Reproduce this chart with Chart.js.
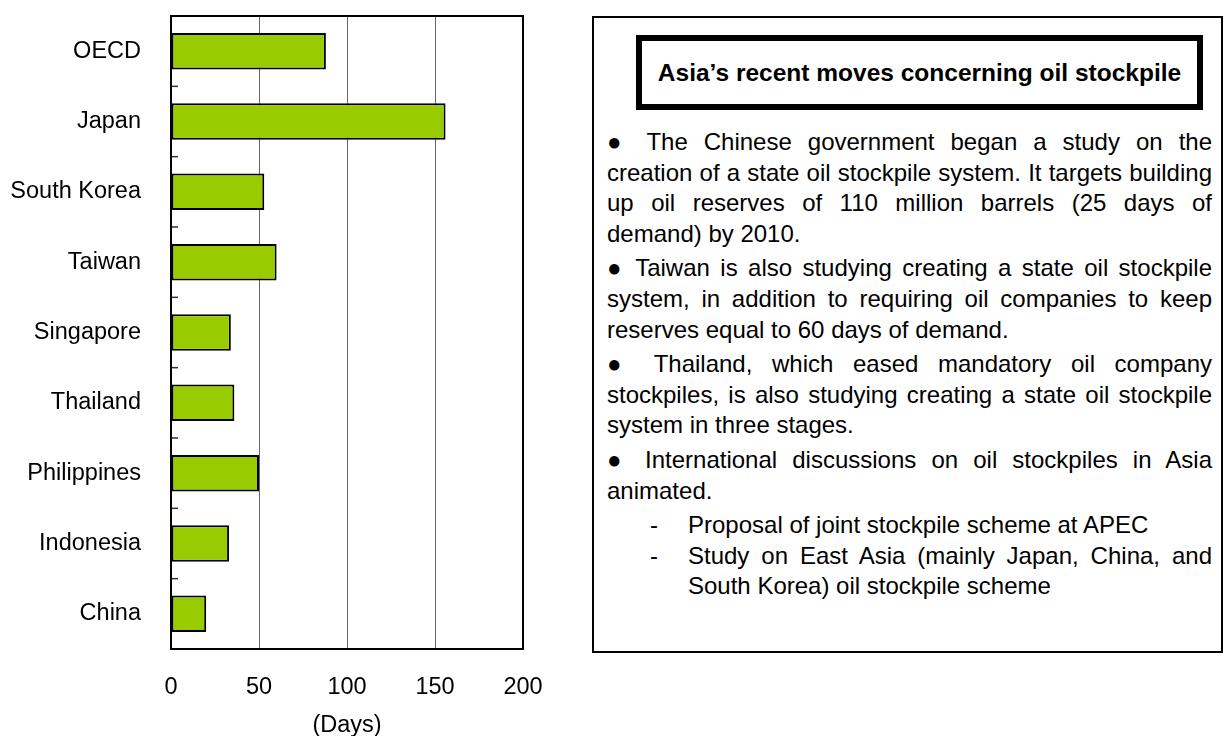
<!DOCTYPE html>
<html>
<head>
<meta charset="utf-8">
<script src="https://cdn.jsdelivr.net/npm/chart.js@4"></script>
<style>
  body { margin: 0; background: #fff; font-family: 'Liberation Sans', Arial, sans-serif; overflow: hidden; }
  #wrap { position: absolute; left: 0; top: 0; width: 580px; height: 740px; }
  #note {
    position: absolute; left: 592px; top: 16px; width: 631px; height: 637px;
    border: 2px solid #000; box-sizing: border-box;
  }
  #title {
    position: absolute; left: 636px; top: 35px; width: 567px; height: 75px;
    border: 6px solid #000; box-sizing: border-box;
    font-weight: bold; font-size: 24.5px; line-height: 63px; text-align: center;
  }
  .ln { position: absolute; left: 607px; width: 605px; height: 30px; line-height: 30px;
        font-size: 24px; white-space: nowrap; }
  .j { text-align: justify; text-align-last: justify; white-space: normal; }
  .sub { left: 688px; width: 524px; }
  .dash { position: absolute; left: 650px; font-size: 24px; line-height: 30px; height: 30px; }
</style>
</head>
<body>
<div id="wrap"><canvas id="chart"></canvas></div>
<div id="note"></div>
<div id="title">Asia’s recent moves concerning oil stockpile</div>
<div id="lines"></div>
<script>
  const categories = ['OECD', 'Japan', 'South Korea', 'Taiwan', 'Singapore', 'Thailand', 'Philippines', 'Indonesia', 'China'];
  const days = [88, 156, 53, 60, 34, 36, 50, 33, 20];
  const xMin = 0, xMax = 200, xStep = 50;

  // text lines of the note box: [text, justify?, paragraph start?, sub item?]
  const noteLines = [
    ['● The Chinese government began a study on the', true, true, false],
    ['creation of a state oil stockpile system. It targets building', true, false, false],
    ['up oil reserves of 110 million barrels (25 days of', true, false, false],
    ['demand) by 2010.', false, false, false],
    ['● Taiwan is also studying creating a state oil stockpile', true, true, false],
    ['system, in addition to requiring oil companies to keep', true, false, false],
    ['reserves equal to 60 days of demand.', false, false, false],
    ['● Thailand, which eased mandatory oil company', true, true, false],
    ['stockpiles, is also studying creating a state oil stockpile', true, false, false],
    ['system in three stages.', false, false, false],
    ['● International discussions on oil stockpiles in Asia', true, true, false],
    ['animated.', false, false, false],
    ['Proposal of joint stockpile scheme at APEC', false, true, true],
    ['Study on East Asia (mainly Japan, China, and', true, false, true],
    ['South Korea) oil stockpile scheme', false, false, true]
  ];

  const box = document.getElementById('lines');
  let y = 127;
  noteLines.forEach(function (l, i) {
    if (l[2] && i > 0) y += 4;
    const d = document.createElement('div');
    d.className = 'ln' + (l[1] ? ' j' : '') + (l[3] ? ' sub' : '');
    d.style.top = Math.round(y) + 'px';
    d.textContent = l[0];
    box.appendChild(d);
    if (i === 12 || i === 13) {
      const m = document.createElement('div');
      m.className = 'dash';
      m.style.top = Math.round(y) + 'px';
      m.textContent = '-';
      box.appendChild(m);
    }
    y += 30.6;
  });

  const frame = {
    id: 'frame',
    afterDraw(chart) {
      const ctx = chart.ctx, a = chart.chartArea, ys = chart.scales.y;
      ctx.save();
      ctx.strokeStyle = '#333';
      ctx.lineWidth = 1.5;
      for (let i = 1; i < categories.length; i++) {
        const b = (ys.getPixelForTick(i - 1) + ys.getPixelForTick(i)) / 2;
        ctx.beginPath();
        ctx.moveTo(a.left, b);
        ctx.lineTo(a.left + 7, b);
        ctx.stroke();
      }
      ctx.strokeStyle = '#000';
      ctx.lineWidth = 2;
      ctx.strokeRect(a.left, a.top, a.right - a.left, a.bottom - a.top);
      ctx.restore();
    }
  };

  const font = { family: "'Liberation Sans', Arial, sans-serif", size: 23.5 };

  new Chart(document.getElementById('chart'), {
    type: 'bar',
    data: {
      labels: categories,
      datasets: [{
        data: days,
        backgroundColor: '#99CC00',
        borderColor: '#000',
        borderWidth: 2,
        borderSkipped: false,
        barPercentage: 0.52,
        categoryPercentage: 1
      }]
    },
    options: {
      indexAxis: 'y',
      responsive: true,
      maintainAspectRatio: false,
      animation: false,
      layout: { padding: { top: 16, right: 57, bottom: 0, left: 0 } },
      plugins: { legend: { display: false }, tooltip: { enabled: false } },
      scales: {
        x: {
          min: xMin, max: xMax,
          ticks: { stepSize: xStep, color: '#000', font: font, padding: 24 },
          grid: {
            drawTicks: false,
            color: c => (c.tick && c.tick.value > xMin && c.tick.value < xMax) ? '#666' : 'rgba(0,0,0,0)',
            lineWidth: 1
          },
          border: { display: true, color: '#000', width: 2 },
          title: { display: true, text: '(Days)', color: '#000', font: font, padding: { top: 0, bottom: 0 } },
          afterFit: s => { s.height = 91; s.paddingLeft = 0; s.paddingRight = 0; }
        },
        y: {
          ticks: { color: '#000', font: font, padding: 30 },
          grid: { display: false, drawTicks: false },
          border: { display: true, color: '#000', width: 2 },
          afterFit: s => { s.width = 171; s.paddingTop = 0; s.paddingBottom = 0; }
        }
      }
    },
    plugins: [frame]
  });
</script>
</body>
</html>
